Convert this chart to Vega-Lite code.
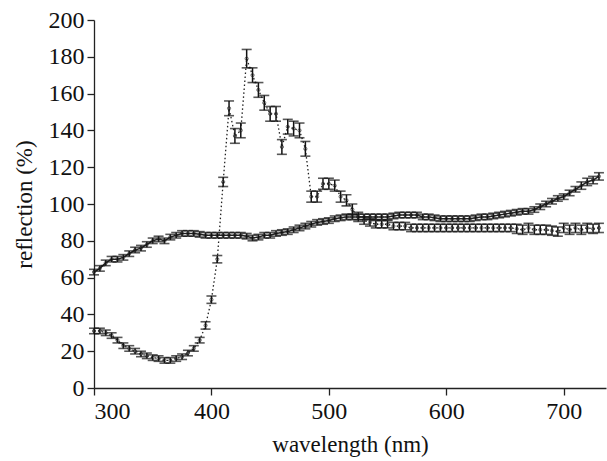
{
  "$schema": "https://vega.github.io/schema/vega-lite/v6.json",
  "width": 512,
  "height": 368,
  "autosize": {"type": "none"},
  "padding": {"left": 94, "top": 20, "right": 1, "bottom": 73},
  "background": "white",
  "config": {
    "view": {"stroke": null},
    "axis": {
      "labelFont": "Liberation Serif",
      "titleFont": "Liberation Serif",
      "labelFontSize": 24,
      "titleFontSize": 23,
      "titleFontWeight": "normal",
      "labelColor": "#111",
      "titleColor": "#111",
      "domainColor": "#222",
      "tickColor": "#222",
      "domainWidth": 1.3,
      "tickWidth": 1.3,
      "tickSize": 7,
      "grid": false
    }
  },
  "data": {"values": [
    {"s":"A","wl":300,"v":31,"e":1.5},{"s":"A","wl":305,"v":31,"e":1.5},{"s":"A","wl":310,"v":30,"e":1.5},{"s":"A","wl":315,"v":28.5,"e":1.5},{"s":"A","wl":320,"v":26,"e":1.5},{"s":"A","wl":325,"v":23,"e":1.5},{"s":"A","wl":330,"v":21.5,"e":1.5},{"s":"A","wl":335,"v":20,"e":1.5},{"s":"A","wl":340,"v":18.5,"e":1.5},{"s":"A","wl":345,"v":17.5,"e":1.5},{"s":"A","wl":350,"v":16.5,"e":1.5},{"s":"A","wl":355,"v":16,"e":1.5},{"s":"A","wl":360,"v":15,"e":1.5},{"s":"A","wl":365,"v":15,"e":1.5},{"s":"A","wl":370,"v":16,"e":1.5},{"s":"A","wl":375,"v":17,"e":1.5},{"s":"A","wl":380,"v":19,"e":1.5},{"s":"A","wl":385,"v":21.5,"e":1.5},{"s":"A","wl":390,"v":26,"e":1.5},{"s":"A","wl":395,"v":34,"e":2},{"s":"A","wl":400,"v":48,"e":2},{"s":"A","wl":405,"v":70,"e":2},{"s":"A","wl":410,"v":112,"e":2.5},{"s":"A","wl":415,"v":152,"e":4},{"s":"A","wl":420,"v":137,"e":4},{"s":"A","wl":425,"v":140,"e":4},{"s":"A","wl":430,"v":179,"e":5},{"s":"A","wl":435,"v":170,"e":4},{"s":"A","wl":440,"v":162,"e":4},{"s":"A","wl":445,"v":155,"e":4},{"s":"A","wl":450,"v":149,"e":4},{"s":"A","wl":455,"v":149,"e":4},{"s":"A","wl":460,"v":131,"e":4},{"s":"A","wl":465,"v":142,"e":4},{"s":"A","wl":470,"v":141,"e":4},{"s":"A","wl":475,"v":140,"e":4},{"s":"A","wl":480,"v":130,"e":4},{"s":"A","wl":485,"v":104,"e":3},{"s":"A","wl":490,"v":104,"e":3},{"s":"A","wl":495,"v":111,"e":3},{"s":"A","wl":500,"v":111,"e":3},{"s":"A","wl":505,"v":110,"e":3},{"s":"A","wl":510,"v":104,"e":3},{"s":"A","wl":515,"v":102,"e":3},{"s":"A","wl":520,"v":97,"e":3},{"s":"A","wl":525,"v":93,"e":2.5},{"s":"A","wl":530,"v":91,"e":2},{"s":"A","wl":535,"v":90,"e":2},{"s":"A","wl":540,"v":89,"e":2},{"s":"A","wl":545,"v":89,"e":2},{"s":"A","wl":550,"v":89,"e":2},{"s":"A","wl":555,"v":88,"e":2},{"s":"A","wl":560,"v":88,"e":2},{"s":"A","wl":565,"v":88,"e":2},{"s":"A","wl":570,"v":87,"e":2},{"s":"A","wl":575,"v":87,"e":2},{"s":"A","wl":580,"v":87,"e":2},{"s":"A","wl":585,"v":87,"e":2},{"s":"A","wl":590,"v":87,"e":2},{"s":"A","wl":595,"v":87,"e":2},{"s":"A","wl":600,"v":87,"e":2},{"s":"A","wl":605,"v":87,"e":2},{"s":"A","wl":610,"v":87,"e":2},{"s":"A","wl":615,"v":87,"e":2},{"s":"A","wl":620,"v":87,"e":2},{"s":"A","wl":625,"v":87,"e":2},{"s":"A","wl":630,"v":87,"e":2},{"s":"A","wl":635,"v":87,"e":2},{"s":"A","wl":640,"v":87,"e":2},{"s":"A","wl":645,"v":87,"e":2},{"s":"A","wl":650,"v":87,"e":2},{"s":"A","wl":655,"v":87,"e":2},{"s":"A","wl":660,"v":86.5,"e":2.5},{"s":"A","wl":665,"v":86,"e":2.5},{"s":"A","wl":670,"v":87,"e":2.5},{"s":"A","wl":675,"v":86,"e":2.5},{"s":"A","wl":680,"v":86,"e":2.5},{"s":"A","wl":685,"v":86,"e":2.5},{"s":"A","wl":690,"v":85.5,"e":2.5},{"s":"A","wl":695,"v":85,"e":2.5},{"s":"A","wl":700,"v":87,"e":2.5},{"s":"A","wl":705,"v":86,"e":2.5},{"s":"A","wl":710,"v":87,"e":2.5},{"s":"A","wl":715,"v":86,"e":2.5},{"s":"A","wl":720,"v":87,"e":2.5},{"s":"A","wl":725,"v":86.5,"e":2.5},{"s":"A","wl":730,"v":87,"e":2.5},
    {"s":"B","wl":300,"v":63,"e":1.5},{"s":"B","wl":305,"v":65,"e":1.5},{"s":"B","wl":310,"v":68,"e":1.5},{"s":"B","wl":315,"v":70,"e":1.5},{"s":"B","wl":320,"v":70,"e":1.5},{"s":"B","wl":325,"v":71,"e":1.5},{"s":"B","wl":330,"v":73,"e":1.5},{"s":"B","wl":335,"v":75,"e":1.5},{"s":"B","wl":340,"v":76,"e":1.5},{"s":"B","wl":345,"v":78,"e":1.5},{"s":"B","wl":350,"v":80,"e":1.5},{"s":"B","wl":355,"v":81,"e":1.5},{"s":"B","wl":360,"v":80,"e":1.5},{"s":"B","wl":365,"v":82,"e":1.5},{"s":"B","wl":370,"v":83,"e":1.5},{"s":"B","wl":375,"v":84,"e":1.5},{"s":"B","wl":380,"v":84,"e":1.5},{"s":"B","wl":385,"v":84,"e":1.5},{"s":"B","wl":390,"v":83.5,"e":1.5},{"s":"B","wl":395,"v":83,"e":1.5},{"s":"B","wl":400,"v":83,"e":1.5},{"s":"B","wl":405,"v":83,"e":1.5},{"s":"B","wl":410,"v":83,"e":1.5},{"s":"B","wl":415,"v":83,"e":1.5},{"s":"B","wl":420,"v":83,"e":1.5},{"s":"B","wl":425,"v":83,"e":1.5},{"s":"B","wl":430,"v":82.5,"e":1.5},{"s":"B","wl":435,"v":81.5,"e":1.5},{"s":"B","wl":440,"v":82,"e":1.5},{"s":"B","wl":445,"v":83,"e":1.5},{"s":"B","wl":450,"v":83,"e":1.5},{"s":"B","wl":455,"v":84,"e":1.5},{"s":"B","wl":460,"v":84.5,"e":1.5},{"s":"B","wl":465,"v":85,"e":1.5},{"s":"B","wl":470,"v":86,"e":1.5},{"s":"B","wl":475,"v":87,"e":1.5},{"s":"B","wl":480,"v":88,"e":1.5},{"s":"B","wl":485,"v":89,"e":1.5},{"s":"B","wl":490,"v":90,"e":1.5},{"s":"B","wl":495,"v":90.5,"e":1.5},{"s":"B","wl":500,"v":91,"e":1.5},{"s":"B","wl":505,"v":92,"e":1.5},{"s":"B","wl":510,"v":92.5,"e":1.5},{"s":"B","wl":515,"v":93,"e":1.5},{"s":"B","wl":520,"v":93,"e":1.5},{"s":"B","wl":525,"v":93,"e":1.5},{"s":"B","wl":530,"v":93,"e":1.5},{"s":"B","wl":535,"v":93,"e":1.5},{"s":"B","wl":540,"v":93,"e":1.5},{"s":"B","wl":545,"v":93,"e":1.5},{"s":"B","wl":550,"v":93,"e":1.5},{"s":"B","wl":555,"v":93.5,"e":1.5},{"s":"B","wl":560,"v":94,"e":1.5},{"s":"B","wl":565,"v":94,"e":1.5},{"s":"B","wl":570,"v":94,"e":1.5},{"s":"B","wl":575,"v":94,"e":1.5},{"s":"B","wl":580,"v":93,"e":1.5},{"s":"B","wl":585,"v":93,"e":1.5},{"s":"B","wl":590,"v":92.5,"e":1.5},{"s":"B","wl":595,"v":92,"e":1.5},{"s":"B","wl":600,"v":92,"e":1.5},{"s":"B","wl":605,"v":92,"e":1.5},{"s":"B","wl":610,"v":92,"e":1.5},{"s":"B","wl":615,"v":92,"e":1.5},{"s":"B","wl":620,"v":92,"e":1.5},{"s":"B","wl":625,"v":92.5,"e":1.5},{"s":"B","wl":630,"v":93,"e":1.5},{"s":"B","wl":635,"v":93,"e":1.5},{"s":"B","wl":640,"v":93.5,"e":1.5},{"s":"B","wl":645,"v":94,"e":1.5},{"s":"B","wl":650,"v":94.5,"e":1.5},{"s":"B","wl":655,"v":95,"e":1.5},{"s":"B","wl":660,"v":95.5,"e":1.5},{"s":"B","wl":665,"v":96,"e":1.5},{"s":"B","wl":670,"v":96,"e":1.5},{"s":"B","wl":675,"v":97,"e":1.5},{"s":"B","wl":680,"v":98.5,"e":1.5},{"s":"B","wl":685,"v":100,"e":1.5},{"s":"B","wl":690,"v":101.5,"e":1.5},{"s":"B","wl":695,"v":103,"e":1.5},{"s":"B","wl":700,"v":104,"e":1.5},{"s":"B","wl":705,"v":106,"e":1.5},{"s":"B","wl":710,"v":108,"e":1.5},{"s":"B","wl":715,"v":110,"e":2},{"s":"B","wl":720,"v":112,"e":2},{"s":"B","wl":725,"v":113,"e":2},{"s":"B","wl":730,"v":115,"e":2}
  ]},
  "encoding": {
    "x": {
      "field": "wl", "type": "quantitative",
      "scale": {"domain": [300, 736], "nice": false, "zero": false},
      "axis": {"values": [300, 400, 500, 600, 700], "title": "wavelength (nm)", "titlePadding": 10, "labelPadding": 4}
    },
    "y": {
      "field": "v", "type": "quantitative",
      "scale": {"domain": [0, 200], "nice": false},
      "axis": {"values": [0, 20, 40, 60, 80, 100, 120, 140, 160, 180, 200], "title": "reflection (%)", "titlePadding": 12, "labelPadding": 3}
    }
  },
  "layer": [
    {
      "transform": [{"filter": "datum.s === 'A'"}],
      "mark": {"type": "line", "color": "#222", "strokeWidth": 1.3, "strokeDash": [1.5, 2.5]},
      "encoding": {}
    },
    {
      "transform": [{"filter": "datum.s === 'B'"}],
      "mark": {"type": "line", "color": "#222", "strokeWidth": 1.5},
      "encoding": {}
    },
    {
      "mark": {"type": "errorbar", "color": "#111", "thickness": 1.5, "ticks": {"size": 10, "thickness": 1.6, "color": "#111"}},
      "encoding": {
        "yError": {"field": "e"},
        "detail": {"field": "s"}
      }
    },
    {
      "mark": {"type": "point", "filled": false, "color": "#222", "size": 10, "strokeWidth": 1},
      "encoding": {}
    }
  ]
}
